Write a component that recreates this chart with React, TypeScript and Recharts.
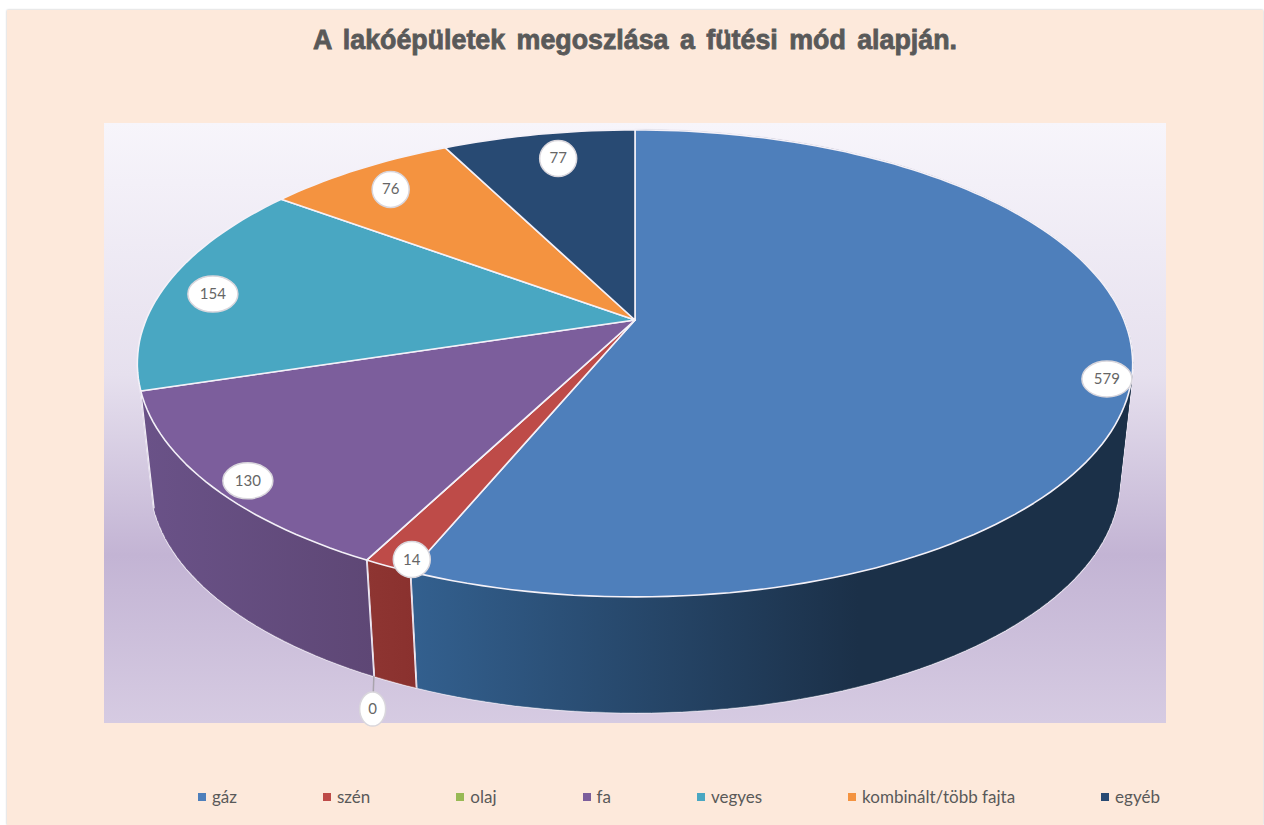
import * as React from "react";
import { PieChart, Pie, Legend } from "recharts";

const categories = ["gáz", "szén", "olaj", "fa", "vegyes", "kombinált/több fajta", "egyéb"];
const values = [579, 14, 0, 130, 154, 76, 77];
const topColors = ["#4E7FBB", "#BE4B48", "#98B954", "#7C5E9C", "#49A7C2", "#F49340", "#284A73"];
const wallLight = ["#33608F", "#8E3532", "#6F8A3C", "#6A5288", "#357C90", "#B46A2C", "#1B3450"];
const wallDark = ["#1B3048", "#8A312E", "#6F8A3C", "#5E4775", "#2D6A7C", "#9C5A24", "#162A42"];

// label placement: fraction of the radius, then a small nudge in px
const labelRadius = [0.95, 0.95, 1, 0.92, 0.9, 0.85, 0.85];
const labelDx = [0, 9, 6, 0, 0, -5, 7];
const labelDy = [16, 8, 149, 11, 7, 0, 0];

const data = categories.map((name, i) => ({ name, value: values[i], index: i }));

const WIDTH = 1264;
const HEIGHT = 825;
const CX = 635;
const CY = 320;
const RADIUS = 489;

// the pie is tilted in perspective, so the near edge comes out lower and larger
const TILT = -0.186;
const TOP_Y = 0.461;
const BOTTOM_R = 0.973;
const BOTTOM_Y = 0.457;
const BOTTOM_DROP = 118;

function project(cx: number, cy: number, r: number, deg: number, t: number, bottom = false) {
  const rad = (deg * Math.PI) / 180;
  const u = Math.cos(rad) * t;
  const v = -Math.sin(rad) * t;
  const den = 1 + TILT * v;
  if (bottom) {
    return {
      x: cx + (r * BOTTOM_R * u) / den,
      y: cy + BOTTOM_DROP + (r * BOTTOM_Y * v) / den,
    };
  }
  return { x: cx + (r * u) / den, y: cy + (r * TOP_Y * v) / den };
}

function arcPoints(p: any, bottom: boolean) {
  const steps = Math.max(2, Math.ceil(Math.abs(p.startAngle - p.endAngle) / 1.5));
  const pts = [];
  for (let i = 0; i <= steps; i++) {
    const deg = p.startAngle + ((p.endAngle - p.startAngle) * i) / steps;
    pts.push(project(p.cx, p.cy, p.outerRadius, deg, 1, bottom));
  }
  return pts;
}

type Pt = { x: number; y: number };

const toPath = (pts: Pt[]) =>
  pts.map((q, i) => `${i ? "L" : "M"}${q.x.toFixed(1)},${q.y.toFixed(1)}`).join(" ") + " Z";

function signedArea(pts: Pt[]) {
  let sum = 0;
  pts.forEach((q, i) => {
    const n = pts[(i + 1) % pts.length];
    sum += q.x * n.y - n.x * q.y;
  });
  return sum;
}

function TopFace(props: any) {
  const pts = [{ x: props.cx, y: props.cy }, ...arcPoints(props, false)];
  return <path d={toPath(pts)} fill={props.fill} stroke="#F4F1F8" strokeWidth={1.6} strokeLinejoin="round" />;
}

function WallFace(props: any) {
  const i = props.payload?.index ?? props.index ?? 0;
  const mid = (props.startAngle + props.endAngle) / 2;
  // slices on the far half have no visible wall
  if (Math.sin((mid * Math.PI) / 180) > 0 || values[i] === 0) return null;
  const top = arcPoints(props, false);
  const bottom = arcPoints(props, true);
  // wall is built from small quads, all wound the same way, so the silhouette fills in
  const quads = top.slice(1).map((q, k) => {
    const quad = [top[k], q, bottom[k + 1], bottom[k]];
    return toPath(signedArea(quad) < 0 ? quad.reverse() : quad);
  });
  const d = quads.join(" ");
  const seam = (pts: Pt[]) => pts.map((q, k) => `${k ? "L" : "M"}${q.x.toFixed(1)},${q.y.toFixed(1)}`).join(" ");
  const last = top.length - 1;
  const id = `wall-${i}`;
  return (
    <g>
      <defs>
        <linearGradient id={id} x1="0" y1="0" x2="1" y2="0">
          <stop offset="0" stopColor={wallLight[i]} />
          <stop offset={i === 0 ? 0.62 : 1} stopColor={wallDark[i]} />
        </linearGradient>
      </defs>
      <path d={d} fill="none" stroke="#EFEAF4" strokeWidth={2.4} strokeLinejoin="round" />
      <path d={d} fill={`url(#${id})`} stroke={`url(#${id})`} strokeWidth={0.6} />
      <path d={seam([top[0], bottom[0]])} fill="none" stroke="#EFEAF4" strokeWidth={1.3} />
      <path d={seam([top[last], bottom[last]])} fill="none" stroke="#EFEAF4" strokeWidth={1.3} />
    </g>
  );
}

function BubbleLabel(props: any) {
  const i = props.index;
  const p = project(props.cx, props.cy, props.outerRadius, props.midAngle, labelRadius[i]);
  const foot = project(props.cx, props.cy, props.outerRadius, props.midAngle, labelRadius[i], true);
  const x = p.x + labelDx[i];
  const y = p.y + labelDy[i];
  const text = String(values[i]);
  const rx = text.length > 2 ? 25 : text.length > 1 ? 18.5 : 13;
  const ry = text.length > 1 ? 18 : 17;
  return (
    <g>
      {values[i] === 0 && <line x1={foot.x} y1={foot.y} x2={x} y2={y} stroke="#A9A4AD" strokeWidth={1.5} />}
      <ellipse cx={x} cy={y} rx={rx} ry={ry} fill="#FFFFFF" stroke="#D9D6DC" strokeWidth={1.5} />
      <text x={x} y={y + 5} textAnchor="middle" fontFamily="Lato" fontSize={15} fill="#666666">
        {text}
      </text>
    </g>
  );
}

function LegendRow({ payload }: any) {
  const items = (payload || []).filter((item: any) => item.type !== "none");
  return (
    <div style={{ display: "flex", columnGap: 86, alignItems: "center", fontFamily: "Lato", fontSize: 17, color: "#595959", whiteSpace: "nowrap" }}>
      {items.map((item: any) => (
        <div key={item.value} style={{ display: "flex", alignItems: "center", columnGap: 6 }}>
          <span style={{ width: 8, height: 8, background: item.color, display: "inline-block" }} />
          <span>{item.value}</span>
        </div>
      ))}
    </div>
  );
}

export default function App() {
  return (
    <div style={{ position: "absolute", left: 0, top: 0, width: WIDTH, height: HEIGHT, overflow: "hidden", background: "#FFFFFF" }}>
      <div style={{ position: "absolute", left: 7, top: 10, width: 1256, height: 815, background: "#FDE9DB", boxShadow: "0 0 2px #BBB" }} />
      <div
        style={{
          position: "absolute",
          left: 104,
          top: 123,
          width: 1062,
          height: 600,
          background: "linear-gradient(180deg, #F7F5FB 0%, #E6E0EE 42%, #C3B4D4 72%, #C7B9D7 78%, #D6CBE2 100%)",
        }}
      />
      <div
        style={{
          position: "absolute",
          left: 0,
          top: 25,
          width: 1270,
          textAlign: "center",
          fontFamily: "Liberation Sans",
          fontWeight: 700,
          fontSize: 26.8,
          wordSpacing: 4,
          color: "#595959",
          WebkitTextStroke: "0.8px #595959",
        }}
      >
        A lakóépületek megoszlása a fütési mód alapján.
      </div>
      <div style={{ position: "absolute", left: 0, top: 0 }}>
        <PieChart width={WIDTH} height={HEIGHT} margin={{ top: 0, right: 0, bottom: 0, left: 0 }}>
          <Pie
            data={data}
            dataKey="value"
            nameKey="name"
            cx={CX}
            cy={CY}
            outerRadius={RADIUS}
            startAngle={90}
            endAngle={-270}
            legendType="none"
            shape={WallFace}
            isAnimationActive={false}
          />
          <Pie
            data={data.map((d, i) => ({ ...d, fill: topColors[i] }))}
            dataKey="value"
            nameKey="name"
            cx={CX}
            cy={CY}
            outerRadius={RADIUS}
            startAngle={90}
            endAngle={-270}
            legendType="square"
            shape={TopFace}
            label={BubbleLabel}
            labelLine={false}
            isAnimationActive={false}
          />
          <Legend content={LegendRow} itemSorter={null} wrapperStyle={{ left: 198, top: 786, width: 1040, bottom: "auto" }} />
        </PieChart>
      </div>
    </div>
  );
}
